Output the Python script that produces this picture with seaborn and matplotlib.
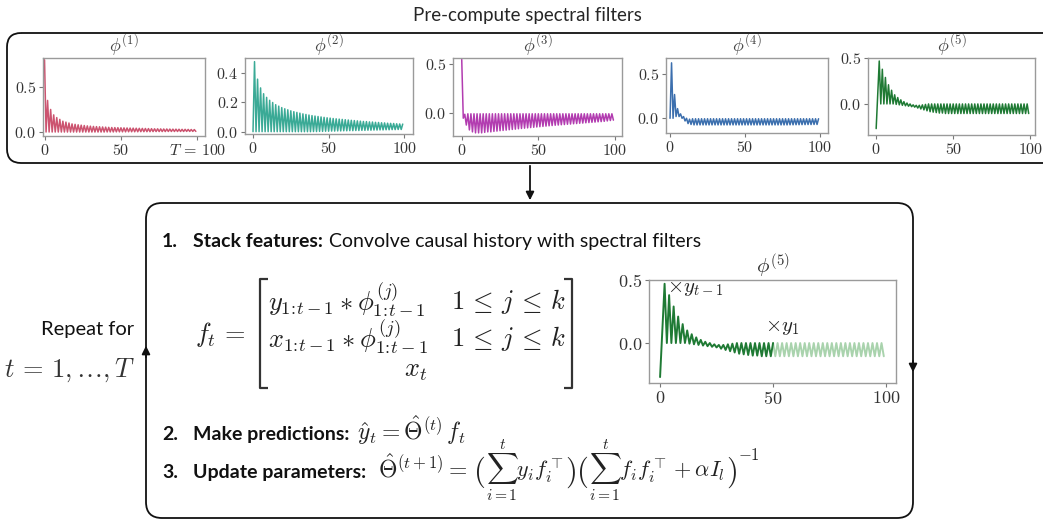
import numpy as np
import pandas as pd
import matplotlib
matplotlib.use("Agg")
import matplotlib.pyplot as plt
import seaborn as sns
from matplotlib.patches import FancyBboxPatch
from matplotlib.ticker import FuncFormatter

# ---------------- data ----------------
t_steps = list(range(100))

phi1_even = [0.80, 0.35, 0.25, 0.19, 0.16, 0.14, 0.12, 0.11, 0.10, 0.09,
             0.085, 0.08, 0.076, 0.072, 0.068, 0.065, 0.062, 0.06, 0.058, 0.056,
             0.054, 0.052, 0.05, 0.049, 0.048, 0.047, 0.046, 0.045, 0.044, 0.043,
             0.042, 0.041, 0.04, 0.039, 0.038, 0.037, 0.036, 0.036, 0.035, 0.034,
             0.034, 0.033, 0.032, 0.032, 0.031, 0.030, 0.030, 0.029, 0.028, 0.027]
phi1_odd = [0.0, 0.0, 0.0, 0.0, 0.0, 0.0, 0.0, 0.0, 0.0, 0.0,
            0.0, 0.0, 0.0, 0.0, 0.0, 0.0, 0.0, 0.0, 0.0, 0.0,
            0.001, 0.001, 0.001, 0.002, 0.002, 0.002, 0.002, 0.003, 0.003, 0.003,
            0.003, 0.004, 0.004, 0.004, 0.004, 0.005, 0.005, 0.005, 0.005, 0.005,
            0.006, 0.006, 0.006, 0.006, 0.006, 0.006, 0.007, 0.007, 0.007, 0.007]

phi2_even = [0.0, 0.0, 0.0, 0.0, 0.0, 0.0, 0.0, 0.0, 0.0, 0.0,
             0.0, 0.0, 0.0, 0.0, 0.0, 0.0, 0.0, 0.0, 0.0, 0.0,
             0.001, 0.001, 0.002, 0.002, 0.003, 0.003, 0.004, 0.004, 0.005, 0.005,
             0.006, 0.006, 0.007, 0.007, 0.008, 0.008, 0.009, 0.009, 0.01, 0.01,
             0.011, 0.011, 0.012, 0.012, 0.013, 0.013, 0.014, 0.014, 0.015, 0.015]
phi2_odd = [0.48, 0.36, 0.30, 0.26, 0.235, 0.215, 0.20, 0.185, 0.175, 0.165,
            0.157, 0.15, 0.143, 0.137, 0.132, 0.127, 0.122, 0.118, 0.114, 0.11,
            0.107, 0.104, 0.101, 0.098, 0.095, 0.093, 0.09, 0.088, 0.086, 0.084,
            0.082, 0.08, 0.078, 0.076, 0.074, 0.072, 0.07, 0.069, 0.067, 0.066,
            0.064, 0.063, 0.061, 0.06, 0.058, 0.057, 0.056, 0.054, 0.053, 0.052]

phi3_even = [0.55, -0.01, -0.005, -0.005, -0.005, -0.005, -0.005, -0.005, -0.005, -0.005,
             -0.005, -0.005, -0.005, -0.005, -0.005, -0.005, -0.005, -0.005, -0.005, -0.005,
             -0.005, -0.005, -0.005, -0.005, -0.005, -0.005, -0.005, -0.005, -0.005, -0.005,
             -0.005, -0.005, -0.005, -0.005, -0.005, -0.005, -0.005, -0.005, -0.005, -0.005,
             -0.005, -0.005, -0.005, -0.005, -0.005, -0.005, -0.005, -0.005, -0.005, -0.005]
phi3_odd = [-0.05, -0.12, -0.17, -0.19, -0.2, -0.2, -0.2, -0.195, -0.19, -0.19,
            -0.185, -0.182, -0.178, -0.175, -0.172, -0.168, -0.165, -0.162, -0.158, -0.155,
            -0.152, -0.149, -0.146, -0.143, -0.14, -0.137, -0.134, -0.131, -0.128, -0.125,
            -0.122, -0.12, -0.117, -0.115, -0.112, -0.11, -0.107, -0.105, -0.102, -0.1,
            -0.097, -0.095, -0.092, -0.09, -0.087, -0.085, -0.082, -0.078, -0.074, -0.07]

phi4_even = [0.0, 0.0, 0.02, 0.02, 0.0, -0.03, -0.06, -0.07, -0.075, -0.075,
             -0.075, -0.075, -0.075, -0.075, -0.075, -0.075, -0.075, -0.075, -0.075, -0.075,
             -0.075, -0.075, -0.075, -0.075, -0.075, -0.075, -0.075, -0.075, -0.075, -0.075,
             -0.075, -0.075, -0.075, -0.075, -0.075, -0.075, -0.075, -0.075, -0.075, -0.075,
             -0.074, -0.074, -0.073, -0.073, -0.072, -0.072, -0.071, -0.071, -0.07, -0.07]
phi4_odd = [0.63, 0.27, 0.11, 0.05, 0.02, 0.0, -0.01, -0.005, -0.005, -0.005,
            -0.005, -0.005, -0.005, -0.005, -0.005, -0.005, -0.005, -0.005, -0.005, -0.005,
            -0.005, -0.005, -0.005, -0.005, -0.005, -0.005, -0.005, -0.005, -0.005, -0.005,
            -0.005, -0.005, -0.005, -0.005, -0.005, -0.005, -0.005, -0.005, -0.005, -0.005,
            -0.005, -0.005, -0.005, -0.005, -0.005, -0.005, -0.005, -0.005, -0.005, -0.005]

phi5_even = [-0.27, 0.47, 0.38, 0.29, 0.21, 0.15, 0.10, 0.07, 0.045, 0.025,
             0.01, 0.0, -0.01, -0.015, -0.015, -0.01, -0.005, 0.0, 0.0, 0.0,
             0.0, 0.0, 0.0, 0.0, 0.0, 0.0, 0.0, 0.0, 0.0, 0.0,
             0.0, 0.0, 0.0, 0.0, 0.0, 0.0, 0.0, 0.0, 0.0, 0.0,
             0.0, 0.0, 0.0, 0.0, 0.0, 0.0, 0.0, 0.0, 0.0, 0.0]
phi5_odd = [0.10, 0.0, 0.0, 0.0, 0.0, 0.0, -0.005, -0.01, -0.015, -0.02,
            -0.025, -0.03, -0.035, -0.045, -0.055, -0.065, -0.075, -0.085, -0.09, -0.095,
            -0.1, -0.1, -0.105, -0.105, -0.105, -0.105, -0.105, -0.105, -0.105, -0.105,
            -0.105, -0.105, -0.105, -0.105, -0.105, -0.105, -0.105, -0.105, -0.105, -0.105,
            -0.105, -0.105, -0.105, -0.105, -0.105, -0.105, -0.105, -0.105, -0.105, -0.105]

filter_titles = [r"$\phi^{(1)}$", r"$\phi^{(2)}$", r"$\phi^{(3)}$", r"$\phi^{(4)}$", r"$\phi^{(5)}$"]
filter_colors = ["#cc5470", "#3aaa96", "#b23cb0", "#3c6fae", "#1f7a34"]
light_green = "#a9d3ad"
yticks_small = [[0.0, 0.5], [0.0, 0.2, 0.4], [0.0, 0.5], [0.0, 0.5], [0.0, 0.5]]
xticks = [0, 50, 100]
split_t = 50


def interleave(even, odd):
    out = []
    for a, b in zip(even, odd):
        out.extend([a, b])
    return out


filters = [interleave(phi1_even, phi1_odd), interleave(phi2_even, phi2_odd),
           interleave(phi3_even, phi3_odd), interleave(phi4_even, phi4_odd),
           interleave(phi5_even, phi5_odd)]

# ---------------- figure ----------------
sns.set_style("white")
plt.rcParams["mathtext.fontset"] = "cm"
plt.rcParams["font.family"] = ["Lato", "DejaVu Sans"]

W, H = 1043, 521
fig = plt.figure(figsize=(W / 100, H / 100), dpi=100)

ov = fig.add_axes([0, 0, 1, 1], zorder=0)
ov.set_xlim(0, W)
ov.set_ylim(H, 0)
ov.axis("off")
ov.patch.set_alpha(0)


def add_ax(l, t, r, b):
    a = fig.add_axes([l / W, 1 - b / H, (r - l) / W, (b - t) / H], zorder=2)
    a.patch.set_alpha(0)
    return a


def style_ax(a, fs):
    for s in a.spines.values():
        s.set_color("#9a9a9a")
        s.set_linewidth(1.0)
    a.tick_params(axis="both", which="both", direction="out", length=3, width=0.8,
                  color="#777777", labelsize=fs, labelcolor="#333333", pad=2,
                  bottom=True, left=True)
    a.yaxis.set_major_formatter(FuncFormatter(lambda v, p: f"${v:.1f}$"))
    a.set_xlabel("")
    a.set_ylabel("")


# boxes
ov.add_patch(FancyBboxPatch((7, 33), 1060, 130, boxstyle="round,pad=0,rounding_size=14",
                            fill=False, ec="#111111", lw=1.3, zorder=1))
ov.add_patch(FancyBboxPatch((146, 203), 767, 315, boxstyle="round,pad=0,rounding_size=16",
                            fill=False, ec="#111111", lw=1.3, zorder=1))

# arrows
ov.annotate("", xy=(530, 203), xytext=(530, 163),
            arrowprops=dict(arrowstyle="-|>", color="#111111", lw=1.3, mutation_scale=12))
ov.annotate("", xy=(146, 343), xytext=(146, 360),
            arrowprops=dict(arrowstyle="-|>", color="#111111", lw=1.3, mutation_scale=12))
ov.annotate("", xy=(913, 375), xytext=(913, 358),
            arrowprops=dict(arrowstyle="-|>", color="#111111", lw=1.3, mutation_scale=12))

ov.text(527, 15, "Pre-compute spectral filters", ha="center", va="center", fontsize=13.5)

# small filter plots
boxes = [(43, 58, 205, 136), (245, 58, 413, 134), (453, 58, 622, 136),
         (666, 58, 828, 133), (868, 58, 1035, 135)]
ylims = [(-0.044, 0.82), (-0.016, 0.505), (-0.232, 0.565), (-0.167, 0.685), (-0.34, 0.503)]
xlims = [(-1, 105), (-5.3, 105.8), (-5.7, 104.6), (-2.7, 105.3), (-5.3, 103.1)]
for i in range(5):
    a = add_ax(*boxes[i])
    df = pd.DataFrame({"t": t_steps, "v": filters[i]})
    sns.lineplot(data=df, x="t", y="v", ax=a, color=filter_colors[i], lw=1.1)
    a.set_xlim(*xlims[i])
    a.set_ylim(*ylims[i])
    a.set_xticks(xticks)
    a.set_yticks(yticks_small[i])
    style_ax(a, 11.5)
    if i == 0:
        a.set_xticklabels(["$0$", "$50$", r"$T\,=\,100$"])
    else:
        a.set_xticklabels(["$0$", "$50$", "$100$"])
    a.set_title(filter_titles[i], fontsize=13, color="#444444", pad=3)

# big plot (phi5 with history split)
a = add_ax(649, 280, 896, 383)
df5 = pd.DataFrame({"t": t_steps, "v": filters[4]})
sns.lineplot(data=df5[df5.t >= split_t], x="t", y="v", ax=a, color=light_green, lw=1.4)
sns.lineplot(data=df5[df5.t <= split_t], x="t", y="v", ax=a, color=filter_colors[4], lw=1.4)
a.set_xlim(-4.9, 104.4)
a.set_ylim(-0.317, 0.5)
a.set_xticks(xticks)
a.set_yticks([0.0, 0.5])
style_ax(a, 13)
a.set_xticklabels(["$0$", "$50$", "$100$"])
a.set_title(r"$\phi^{(5)}$", fontsize=15, color="#333333", pad=3)
a.text(3.0, 0.44, r"$\times y_{t-1}$", fontsize=15, va="center", ha="left", color="#222222")
a.text(46.5, 0.125, r"$\times y_1$", fontsize=15, va="center", ha="left", color="#222222")

# ---------------- text in lower box ----------------
renderer = fig.canvas.get_renderer()


def seq(x, y, parts):
    for s, kw, gap, dy in parts:
        tx = ov.text(x, y + dy, s, ha="left", va="baseline", **kw)
        bb = tx.get_window_extent(renderer=renderer)
        x += bb.width + gap
    return x


fs_txt = 14
bold = dict(fontsize=fs_txt, fontweight="bold", color="#111111")
reg = dict(fontsize=fs_txt, color="#111111")
mathkw = dict(fontsize=17, color="#222222")
sumkw = dict(fontsize=16, color="#222222")
parkw = dict(fontsize=22, color="#222222")
expkw = dict(fontsize=12, color="#222222")

ov.text(162, 247, "1.", ha="left", va="baseline", **bold)
seq(193, 247, [("Stack features:", bold, 6, 0),
               ("Convolve causal history with spectral filters", reg, 0, 0)])
ov.text(162, 440, "2.", ha="left", va="baseline", **bold)
seq(193, 440, [("Make predictions:", bold, 8, 0),
               (r"$\hat{y}_t = \hat{\Theta}^{(t)}\, f_t$", mathkw, 0, 0)])
ov.text(162, 478, "3.", ha="left", va="baseline", **bold)
seq(193, 478, [("Update parameters:", bold, 12, 0),
               (r"$\hat{\Theta}^{(t+1)} =$", mathkw, 5, 0),
               (r"$($", parkw, 1, 2),
               (r"$\sum_{i=1}^{t} y_i f_i^{\top}$", sumkw, 1, 0),
               (r"$)$", parkw, 0, 2),
               (r"$($", parkw, 1, 2),
               (r"$\sum_{i=1}^{t} f_i f_i^{\top} + \alpha I_l$", sumkw, 1, 0),
               (r"$)$", parkw, 1, 2),
               (r"$-1$", expkw, 0, -18)])

# f_t = [ matrix ]
fm = dict(fontsize=19, color="#222222")
ov.text(195, 342, r"$f_t\, =$", ha="left", va="baseline", **fm)
for xs, sgn in [(260, 1), (572, -1)]:
    ov.plot([xs + 8 * sgn, xs, xs, xs + 8 * sgn], [279, 279, 388, 388],
            color="#333333", lw=1.6, solid_capstyle="butt")
ov.text(268, 310, r"$y_{1\!:\!t-1} * \phi^{(j)}_{1\!:\!t-1}$", ha="left", va="baseline", **fm)
ov.text(451, 309, r"$1 \,\leq\, j \,\leq\, k$", ha="left", va="baseline", **fm)
ov.text(268, 347, r"$x_{1\!:\!t-1} * \phi^{(j)}_{1\!:\!t-1}$", ha="left", va="baseline", **fm)
ov.text(451, 346, r"$1 \,\leq\, j \,\leq\, k$", ha="left", va="baseline", **fm)
ov.text(416, 377, r"$x_t$", ha="center", va="baseline", **fm)

# repeat label
ov.text(88, 330, "Repeat for", ha="center", va="center", fontsize=14.5, color="#111111")
ov.text(70, 370, r"$t \,=\, 1,\ldots,T$", ha="center", va="center", fontsize=19, color="#333333")

fig.savefig("out.png", dpi=100)
